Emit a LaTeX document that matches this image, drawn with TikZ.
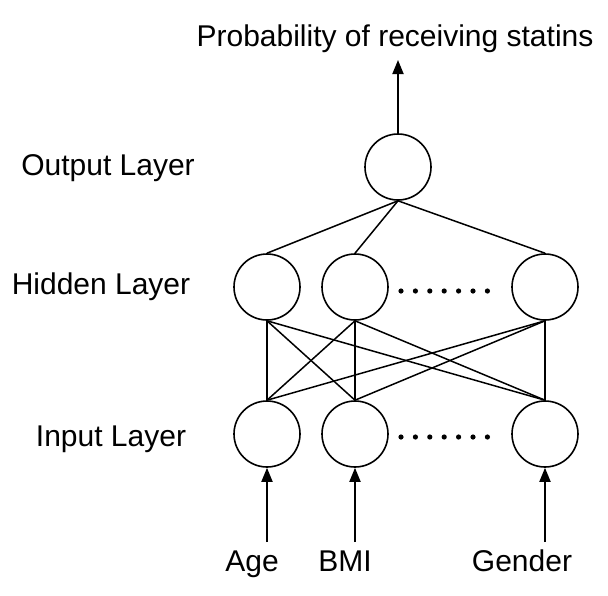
\documentclass[tikz,border=0pt]{standalone}
\usepackage{fontspec}
\setmainfont{Liberation Sans}
\usetikzlibrary{arrows.meta}

\begin{document}
\begin{tikzpicture}[x=1pt, y=-1pt, line width=1.6pt,
        neuron_style/.style={circle,draw=black,minimum size=66pt,inner sep=0pt},
        edge_style/.style={draw=black, line width=1.5pt},
        arrow_style/.style={draw=black, line width=1.8pt,-{Triangle[length=14pt,width=11pt]}},
        text_style/.style={font=\fontsize{30}{34}\selectfont,inner sep=0pt},
        dot_style/.style={fill=black}]

        \useasboundingbox (0,0) rectangle (608,595);

        % neurons
        \node [neuron_style](out) at (398,167) {};

        \node [neuron_style](h1) at (267,287) {};
        \node [neuron_style](h2) at (355,287) {};
        \node [neuron_style](h3) at (545,287) {};

        \node [neuron_style](i1) at (267,434) {};
        \node [neuron_style](i2) at (355,434) {};
        \node [neuron_style](i3) at (545,434) {};

        % layer names
        \node [text_style](lout) at (108,168) {Output Layer};
        \node [text_style](lhid) at (101,287) {Hidden Layer};
        \node [text_style](linp) at (111,439) {Input Layer};

        % output and inputs
        \node [text_style,anchor=base](title) at (395,46) {Probability of receiving statins};
        \coordinate (top) at (398,60);

        \node [text_style,anchor=base](age) at (252,571) {Age};
        \node [text_style,anchor=base](bmi) at (345,571) {BMI};
        \node [text_style,anchor=base](gender) at (522,571) {Gender};
        \coordinate (a1) at (267,542);
        \coordinate (a2) at (355,542);
        \coordinate (a3) at (545,542);

        \draw [arrow_style] (out.north) -- (top);
        \draw [arrow_style] (a1) -- (i1.south);
        \draw [arrow_style] (a2) -- (i2.south);
        \draw [arrow_style] (a3) -- (i3.south);

        % output to hidden
        \draw [edge_style] (out.south) -- (h1.north);
        \draw [edge_style] (out.south) -- (h2.north);
        \draw [edge_style] (out.south) -- (h3.north);

        % hidden to input
        \draw [edge_style] (h1.south) -- (i1.north);
        \draw [edge_style] (h1.south) -- (i2.north);
        \draw [edge_style] (h1.south) -- (i3.north);
        \draw [edge_style] (h2.south) -- (i1.north);
        \draw [edge_style] (h2.south) -- (i2.north);
        \draw [edge_style] (h2.south) -- (i3.north);
        \draw [edge_style] (h3.south) -- (i1.north);
        \draw [edge_style] (h3.south) -- (i2.north);
        \draw [edge_style] (h3.south) -- (i3.north);

        % dots between neurons
        \foreach \k in {0,...,6} {
            \fill [dot_style] (401+14.4*\k,291) circle (2.6);
            \fill [dot_style] (401+14.4*\k,437) circle (2.6);
        }

\end{tikzpicture}
\end{document}
